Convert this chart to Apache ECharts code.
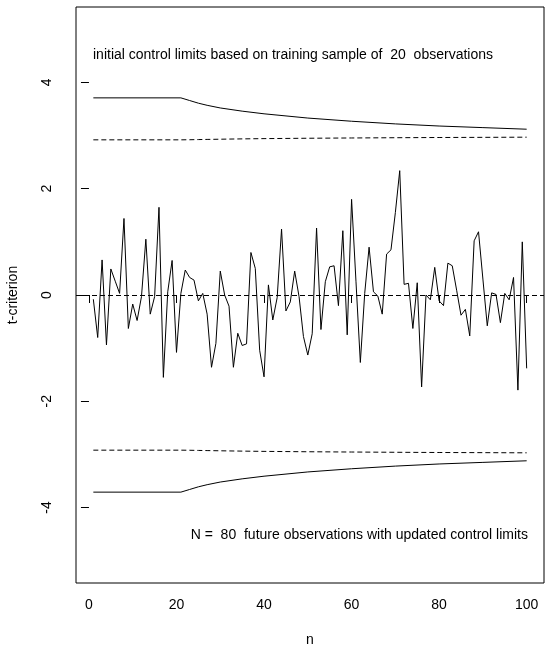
<!DOCTYPE html>
<html>
<head>
<meta charset="utf-8">
<script src="https://cdn.jsdelivr.net/npm/echarts@6/dist/echarts.min.js"></script>
<style>html,body{margin:0;padding:0;background:#fff}#c{width:546px;height:648px}</style>
</head>
<body>
<div id="c"></div>
<script>
// observation index n = 1..100
const nValues = [];
for (let i = 1; i <= 100; i++) nValues.push(i);

// t-criterion values
const tValues = [
  -0.08, -0.80, 0.66, -0.94, 0.49, 0.26, 0.03, 1.44, -0.63, -0.17,
  -0.48, -0.03, 1.05, -0.36, -0.03, 1.65, -1.55, 0.06, 0.65, -1.08,
  0.03, 0.47, 0.33, 0.28, -0.11, 0.03, -0.36, -1.36, -0.91, 0.45,
  0.00, -0.21, -1.36, -0.72, -0.95, -0.92, 0.80, 0.50, -1.04, -1.54,
  0.19, -0.47, -0.05, 1.24, -0.30, -0.13, 0.45, -0.03, -0.78, -1.13,
  -0.73, 1.26, -0.65, 0.25, 0.53, 0.55, -0.20, 1.21, -0.75, 1.80,
  0.26, -1.27, 0.03, 0.90, 0.06, -0.02, -0.36, 0.77, 0.85, 1.55,
  2.34, 0.20, 0.22, -0.63, 0.23, -1.73, 0.00, -0.09, 0.52, -0.11,
  -0.20, 0.60, 0.55, 0.09, -0.38, -0.27, -0.77, 1.02, 1.19, 0.30,
  -0.58, 0.04, 0.01, -0.52, 0.03, -0.09, 0.33, -1.79, 1.00, -1.38
];

// control limit curves (read at knots)
const limitN        = [1, 21, 23, 25, 27, 30, 35, 40, 50, 60, 70, 80, 90, 100];
const upperSolid    = [3.71, 3.71, 3.66, 3.61, 3.57, 3.52, 3.46, 3.41, 3.33, 3.27, 3.22, 3.18, 3.15, 3.12];
const lowerSolid    = [-3.71, -3.71, -3.66, -3.61, -3.57, -3.52, -3.46, -3.41, -3.33, -3.27, -3.22, -3.18, -3.15, -3.12];
const upperDashed   = [2.92, 2.92, 2.922, 2.925, 2.928, 2.932, 2.938, 2.943, 2.950, 2.955, 2.960, 2.964, 2.967, 2.97];
const lowerDashed   = [-2.92, -2.92, -2.922, -2.925, -2.928, -2.932, -2.938, -2.943, -2.950, -2.955, -2.960, -2.964, -2.967, -2.97];

const xTicks = [0, 20, 40, 60, 80, 100];
const yTicks = [-4, -2, 0, 2, 4];

const topText = 'initial control limits based on training sample of  20  observations';
const bottomText = 'N =  80  future observations with updated control limits';

const FONT = 'Liberation Sans, Arial, Helvetica, sans-serif';

const pair = (xs, ys) => xs.map((x, i) => [x, ys[i]]);

const chart = echarts.init(document.getElementById('c'), null, {renderer: 'canvas'});
const lineBase = {type: 'line', symbol: 'none', silent: true, animation: false};

chart.setOption({
  animation: false,
  backgroundColor: '#fff',
  grid: {left: 76, right: 2, top: 7, bottom: 65, containLabel: false, outerBoundsMode: 'none',
         show: true, borderColor: '#000', borderWidth: 1, backgroundColor: 'transparent'},
  xAxis: {
    type: 'value', min: -2.96, max: 103.96,
    splitLine: {show: false},
    axisLine: {show: false},
    axisTick: {show: true, customValues: xTicks, length: 8, lineStyle: {color: '#000', width: 1}},
    axisLabel: {customValues: xTicks, color: '#000', fontSize: 14, fontFamily: FONT, margin: 15},
    name: 'n', nameLocation: 'middle', nameGap: 50,
    nameTextStyle: {color: '#000', fontSize: 14, fontFamily: FONT}
  },
  yAxis: {
    type: 'value', min: -5.42, max: 5.42,
    splitLine: {show: false},
    axisLine: {show: false},
    axisTick: {show: true, customValues: yTicks, length: 8, lineStyle: {color: '#000', width: 1}},
    axisLabel: {customValues: yTicks, color: '#000', fontSize: 14, fontFamily: FONT, rotate: 90, margin: 22},
    name: 't-criterion', nameLocation: 'middle', nameGap: 56, nameRotate: 90,
    nameTextStyle: {color: '#000', fontSize: 14, fontFamily: FONT}
  },
  series: [
    Object.assign({}, lineBase, {
      data: pair(nValues, tValues),
      lineStyle: {color: '#000', width: 1},
      markLine: {
        silent: true, symbol: 'none', animation: false,
        label: {show: false},
        lineStyle: {color: '#000', width: 1, type: [5, 3]},
        data: [{yAxis: 0}]
      }
    }),
    Object.assign({}, lineBase, {data: pair(limitN, upperSolid), lineStyle: {color: '#000', width: 1}}),
    Object.assign({}, lineBase, {data: pair(limitN, lowerSolid), lineStyle: {color: '#000', width: 1}}),
    Object.assign({}, lineBase, {data: pair(limitN, upperDashed), lineStyle: {color: '#000', width: 1, type: [5, 3]}}),
    Object.assign({}, lineBase, {data: pair(limitN, lowerDashed), lineStyle: {color: '#000', width: 1, type: [5, 3]}})
  ],
  graphic: [
    {type: 'text', left: 93, top: 48, style: {text: topText, fill: '#000', font: '14px ' + FONT}},
    {type: 'text', right: 18, top: 528, style: {text: bottomText, fill: '#000', font: '14px ' + FONT}}
  ]
});
</script>
</body>
</html>
